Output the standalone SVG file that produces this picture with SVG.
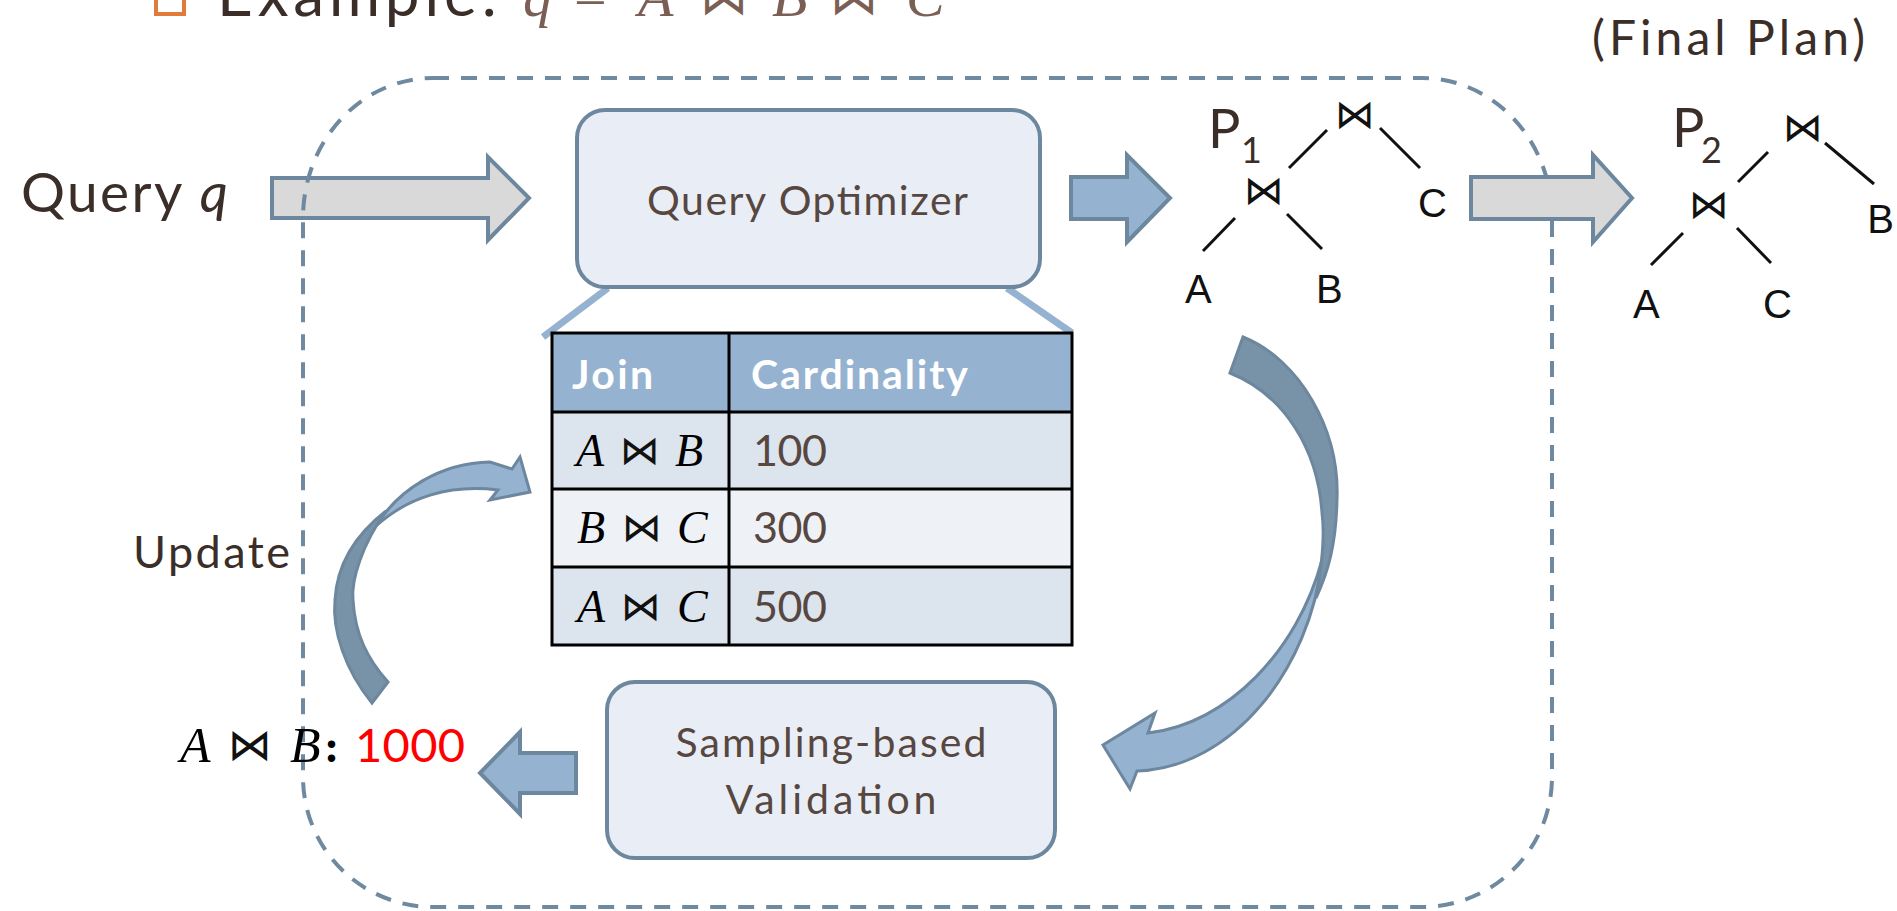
<svg xmlns="http://www.w3.org/2000/svg" width="1897" height="911" viewBox="0 0 1897 911">
<style>
.sans{font-family:Lato,"Noto Sans","DejaVu Sans",sans-serif}
.dark{fill:#3B2E28}
.brown{fill:#574740}
.box{fill:#E9EEF6;stroke:#6C879E;stroke-width:4}
.garrow{fill:#D9D9D9;stroke:#6C879E;stroke-width:4;stroke-linejoin:miter}
.barrow{fill:#95B3D0;stroke:#6C879E;stroke-width:4;stroke-linejoin:miter}
.tree{stroke:#111;stroke-width:3;fill:none}
.lbl{font-family:"Liberation Sans",Arial,sans-serif;font-size:40px;fill:#111}
.bow{font-family:"DejaVu Sans",sans-serif;fill:#111}
.mi{font-family:"Liberation Serif","Times New Roman",serif;font-style:italic;fill:#000}
.tline{stroke:#000;stroke-width:3;fill:none}
.dash{fill:none;stroke:#6F8AA0;stroke-width:4;stroke-dasharray:16 12}
</style>

<g id="title">
  <rect x="156" y="-16" width="28" height="30" fill="none" stroke="#E07B39" stroke-width="4"/>
  <text class="sans dark" x="217" y="16" font-size="62" textLength="280">Example:</text>
  <text class="mi" x="523" y="16" font-size="58" style="fill:#7B5F55">q</text>
  <text x="574" y="16" font-size="58" fill="#7B5F55" font-family="Liberation Serif,serif">=</text>
  <text class="mi" x="638" y="16" font-size="58" style="fill:#7B5F55">A</text>
  <text class="bow" x="724" y="14" font-size="48" text-anchor="middle" style="fill:#7B5F55">⋈</text>
  <text class="mi" x="772" y="16" font-size="58" style="fill:#7B5F55">B</text>
  <text class="bow" x="854" y="14" font-size="48" text-anchor="middle" style="fill:#7B5F55">⋈</text>
  <text class="mi" x="906" y="16" font-size="58" style="fill:#7B5F55">C</text>
</g>

<g id="final-plan-label">
  <text class="sans dark" x="1592" y="55" font-size="48" textLength="273">(Final Plan)</text>
</g>

<g id="query">
  <text class="sans dark" x="21" y="212" font-size="55" textLength="207">Query <tspan font-style="italic">q</tspan></text>
</g>

<g id="connectors">
  <polygon id="arrow-query" class="garrow" points="272,178 488,178 488,157 529,198 488,240 488,218 272,218"/>
  <path id="loop-boundary" class="dash" d="M433,78 L1422,78 A130,140 0 0 1 1552,218 L1552,777 A130,130 0 0 1 1422,907 L433,907 A130,130 0 0 1 303,777 L303,218 A130,140 0 0 1 433,78 Z"/>
  <polygon id="arrow-qo-p1" class="barrow" points="1071,177 1127,177 1127,155 1170,198 1127,242 1127,219 1071,219"/>
  <polygon id="arrow-p1-p2" class="garrow" points="1471,177 1593,177 1593,155 1632,198 1593,242 1593,219 1471,219"/>
  <polygon id="arrow-val-result" class="barrow" points="576,753 520,753 520,732 480,773 520,814 520,793 576,793"/>
  <line x1="608" y1="288" x2="543" y2="337" stroke="#95B3D0" stroke-width="7"/>
  <line x1="1007" y1="288" x2="1072" y2="333" stroke="#95B3D0" stroke-width="7"/>
  <g id="arrow-p1-validation">
    <path d="M1322,560 C1310,670 1232,768 1137,771 L1130,789 L1103,745 L1155,713 L1148,733 C1228,724 1298,650 1322,560 Z" fill="#95B3D0" stroke="#6C879E" stroke-width="3" stroke-linejoin="miter"/>
    <path d="M1243,337 C1300,360 1340,430 1337,500 C1336,545 1328,572 1316,598 C1322,565 1325,535 1322,513 C1318,450 1285,395 1230,373 Z" fill="#7892A8" stroke="#6C879E" stroke-width="3"/>
  </g>
  <g id="arrow-update">
    <path d="M376,526 C398,490 440,463 490,462 L512,469 L520,457 L530,492 L490,500 L498,490 C450,484 408,497 376,526 Z" fill="#95B3D0" stroke="#6C879E" stroke-width="3" stroke-linejoin="miter"/>
    <path d="M372,703 C345,670 332,630 335,600 C337,565 355,535 386,511 C362,545 351,580 353,600 C355,635 368,660 388,682 Z" fill="#7892A8" stroke="#6C879E" stroke-width="3"/>
  </g>
</g>

<g id="query-optimizer">
  <rect class="box" x="577" y="110" width="463" height="177" rx="28"/>
  <text class="sans brown" x="647" y="215" font-size="41" textLength="321">Query Optimizer</text>
</g>

<g id="cardinality-table">
  <rect x="552" y="333" width="520" height="79" fill="#95B3D0"/>
  <rect x="552" y="412" width="520" height="77" fill="#DCE4EE"/>
  <rect x="552" y="489" width="520" height="78" fill="#EEF2F7"/>
  <rect x="552" y="567" width="520" height="78" fill="#DCE4EE"/>
  <rect class="tline" x="552" y="333" width="520" height="312"/>
  <line class="tline" x1="552" y1="412" x2="1072" y2="412"/>
  <line class="tline" x1="552" y1="489" x2="1072" y2="489"/>
  <line class="tline" x1="552" y1="567" x2="1072" y2="567"/>
  <line class="tline" x1="729" y1="333" x2="729" y2="645"/>
  <text class="sans" x="572" y="389" font-size="41" font-weight="bold" fill="#FFFFFF" textLength="81">Join</text>
  <text class="sans" x="751" y="389" font-size="41" font-weight="bold" fill="#FFFFFF" textLength="217">Cardinality</text>
  <text class="mi" x="576" y="466" font-size="46">A</text>
  <text class="bow" x="640" y="464" font-size="40" text-anchor="middle">⋈</text>
  <text class="mi" x="675" y="466" font-size="46">B</text>
  <text class="mi" x="577" y="543" font-size="46">B</text>
  <text class="bow" x="642" y="541" font-size="40" text-anchor="middle">⋈</text>
  <text class="mi" x="677" y="543" font-size="46">C</text>
  <text class="mi" x="577" y="622" font-size="46">A</text>
  <text class="bow" x="641" y="620" font-size="40" text-anchor="middle">⋈</text>
  <text class="mi" x="677" y="622" font-size="46">C</text>
  <text class="sans brown" x="753" y="466" font-size="43" textLength="74">100</text>
  <text class="sans brown" x="753" y="543" font-size="43" textLength="74">300</text>
  <text class="sans brown" x="753" y="622" font-size="43" textLength="74">500</text>
</g>

<g id="sampling-validation">
  <rect class="box" x="607" y="682" width="448" height="176" rx="28"/>
  <text class="sans brown" x="831" y="757" font-size="41" text-anchor="middle" textLength="311">Sampling-based</text>
  <text class="sans brown" x="831" y="814" font-size="41" text-anchor="middle" textLength="211">Validation</text>
</g>

<g id="update-label">
  <text class="sans dark" x="133" y="568" font-size="45" textLength="157">Update</text>
</g>

<g id="result">
  <text class="mi" x="180" y="762" font-size="50">A</text>
  <text class="bow" x="250" y="760" font-size="44" text-anchor="middle">⋈</text>
  <text class="mi" x="290" y="762" font-size="50">B</text>
  <text x="324" y="762" font-size="46" font-family="Liberation Serif,serif" font-weight="bold" fill="#000">:</text>
  <text class="sans" x="355" y="762" font-size="47" fill="#FF0000" textLength="110">1000</text>
</g>

<g id="plan-p1">
  <text class="sans dark" x="1208" y="148" font-size="54">P</text>
  <text class="sans dark" x="1241" y="163" font-size="36">1</text>
  <text class="bow" x="1355" y="128" font-size="40" text-anchor="middle">⋈</text>
  <text class="bow" x="1264" y="204" font-size="40" text-anchor="middle">⋈</text>
  <line class="tree" x1="1327" y1="130" x2="1289" y2="168"/>
  <line class="tree" x1="1380" y1="128" x2="1420" y2="168"/>
  <line class="tree" x1="1235" y1="218" x2="1203" y2="251"/>
  <line class="tree" x1="1287" y1="214" x2="1322" y2="249"/>
  <text class="lbl" x="1185" y="303">A</text>
  <text class="lbl" x="1316" y="303">B</text>
  <text class="lbl" x="1418" y="217">C</text>
</g>

<g id="plan-p2">
  <text class="sans dark" x="1672" y="147" font-size="54">P</text>
  <text class="sans dark" x="1701" y="163" font-size="36">2</text>
  <text class="bow" x="1803" y="141" font-size="40" text-anchor="middle">⋈</text>
  <text class="bow" x="1709" y="218" font-size="40" text-anchor="middle">⋈</text>
  <line class="tree" x1="1768" y1="152" x2="1738" y2="182"/>
  <line class="tree" x1="1825" y1="143" x2="1874" y2="184"/>
  <line class="tree" x1="1683" y1="233" x2="1651" y2="265"/>
  <line class="tree" x1="1737" y1="228" x2="1771" y2="263"/>
  <text class="lbl" x="1633" y="318">A</text>
  <text class="lbl" x="1763" y="318">C</text>
  <text class="lbl" x="1894" y="233" text-anchor="end">B</text>
</g>
</svg>
